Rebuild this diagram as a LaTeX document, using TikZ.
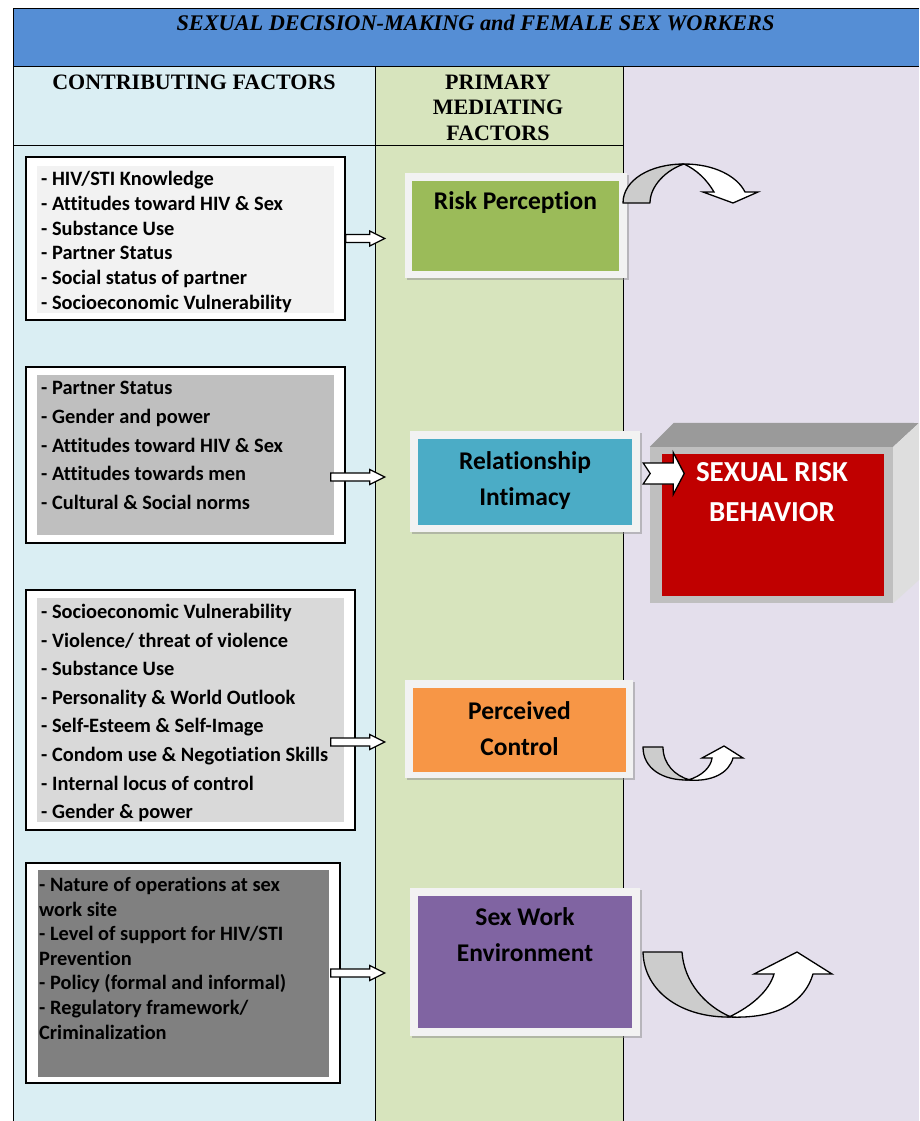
\documentclass[tikz,border=0pt]{standalone}
\usepackage{fontspec}
\setmainfont{Liberation Serif}
\newfontfamily\calibri[Ligatures=NoCommon]{Carlito}
\usetikzlibrary{positioning, shadows, calc}
\definecolor{hdrblue}{HTML}{558ED5}
\definecolor{colblue}{HTML}{DAEEF3}
\definecolor{colgreen}{HTML}{D7E4BD}
\definecolor{colpurple}{HTML}{E4DFEC}
\definecolor{boxlight}{HTML}{F2F2F2}
\definecolor{boxmid}{HTML}{BFBFBF}
\definecolor{boxpale}{HTML}{D9D9D9}
\definecolor{boxdark}{HTML}{808080}
\definecolor{riskgreen}{HTML}{9BBB59}
\definecolor{relblue}{HTML}{4BACC6}
\definecolor{ctrlorange}{HTML}{F79646}
\definecolor{envpurple}{HTML}{8064A2}
\definecolor{behavred}{HTML}{C00000}
\definecolor{cubetop}{HTML}{9A9A9A}
\definecolor{cubeside}{HTML}{DEDEDE}
\definecolor{curlgray}{HTML}{CCCCCC}
\tikzset{
	hollowarrow/.pic={
			\draw[line width=1.3pt, fill=white, line join=miter]
			(0,-4) -- (#1-15,-4) -- (#1-15,-7.5) -- (#1,0) --
			(#1-15,7.5) -- (#1-15,4) -- (0,4) -- cycle;
		}
}
\tikzset{
	notcharrow/.pic={
			\draw[line width=1.3pt, fill=white, line join=miter]
			(0,-10.5) -- (30,-10.5) -- (30,-21) -- (41,0) --
			(30,21) -- (30,10.5) -- (0,10.5) -- (7,0) -- cycle;
		}
}
\tikzset{
	factorframe/.style={draw, line width=1.5pt, fill=white, inner sep=0pt},
	factorfill/.style={fill=#1, draw=none, inner sep=0pt},
	factorline/.style={font=\calibri\bfseries\fontsize{20.4}{24}\selectfont, anchor=west, inner sep=0pt, text height=14pt, text depth=5pt}
}
\tikzset{
	medframe/.style={fill=boxlight, inner sep=0pt, drop shadow={shadow xshift=2pt, shadow yshift=-2pt, fill=black!45}},
	medfill/.style={fill=#1, inner sep=0pt},
	medtext/.style={font=\calibri\bfseries\fontsize{25.5}{36}\selectfont, align=center, inner sep=0pt},
	colhead/.style={font=\bfseries\fontsize{22}{25}\selectfont, inner sep=0pt, text height=16pt, text depth=5pt},
	curlback/.style={draw, line width=1.3pt, fill=curlgray, line join=round},
	curlfront/.style={draw, line width=1.3pt, fill=white, line join=miter}
}

\begin{document}
\begin{tikzpicture}[x=1pt, y=-1pt]

			\useasboundingbox[fill=white] (0,0) rectangle (919,1121);

			\begin{scope}
				\fill[hdrblue] (13,9) rectangle (919,67);
				\fill[colblue] (13,67) rectangle (375,1121);
				\fill[colgreen] (375,67) rectangle (623,1121);
				\fill[colpurple] (623,67) rectangle (919,1121);
				\draw[line width=1pt] (919,9) -- (13,9) -- (13,1121);
				\draw[line width=1pt] (13,67) -- (919,67);
				\draw[line width=1pt] (375,67) -- (375,1121);
				\draw[line width=1pt] (623,67) -- (623,1121);
				\draw[line width=1pt] (13,145) -- (623,145);
			\end{scope}

			\node[font=\bfseries\itshape\fontsize{22.3}{25}\selectfont, inner sep=0pt] (title) at (475.5,23) {SEXUAL DECISION-MAKING and FEMALE SEX WORKERS};
			\node[colhead] (headC) at (194,84) {CONTRIBUTING FACTORS};
			\node[colhead] (headM) at (498,84) {PRIMARY};
			\node[colhead, below=4pt of headM] (headM2) {MEDIATING};
			\node[colhead, below=4pt of headM2] (headM3) {FACTORS};

			\begin{scope}
				\node[factorframe, minimum width=319pt, minimum height=163pt] (fA) at (185.5,238.5) {};
				\node[factorfill=boxlight, minimum width=297pt, minimum height=147pt] (fAin) at (185.5,239.5) {};
				\foreach \txt [count=\i from 0] in {{- HIV/STI Knowledge}, {- Attitudes toward HIV \& Sex}, {- Substance Use}, {- Partner Status}, {- Social status of partner}, {- Socioeconomic Vulnerability}}
				\node[factorline] (la\i) at (41,181+24.8*\i) {\txt};

				\node[factorframe, minimum width=319pt, minimum height=176pt] (fB) at (185.5,455) {};
				\node[factorfill=boxmid, minimum width=297pt, minimum height=160pt] (fBin) at (185.5,455) {};
				\foreach \txt [count=\i from 0] in {{- Partner Status}, {- Gender and power}, {- Attitudes toward HIV \& Sex}, {- Attitudes towards men}, {- Cultural \& Social norms}}
				\node[factorline] (lb\i) at (41,390+28.8*\i) {\txt};

				\node[factorframe, minimum width=329pt, minimum height=240pt] (fC) at (190.5,710) {};
				\node[factorfill=boxpale, minimum width=307pt, minimum height=224pt] (fCin) at (190.5,710) {};
				\foreach \txt [count=\i from 0] in {{- Socioeconomic Vulnerability}, {- Violence/ threat of violence}, {- Substance Use}, {- Personality \& World Outlook}, {- Self-Esteem \& Self-Image}, {- Condom use \& Negotiation Skills}, {- Internal locus of control}, {- Gender \& power}}
				\node[factorline] (lc\i) at (41,614+28.6*\i) {\txt};

				\node[factorframe, minimum width=314pt, minimum height=220pt] (fD) at (183,973) {};
				\node[factorfill=boxdark, minimum width=291pt, minimum height=207pt] (fDin) at (183.5,973.5) {};
				\foreach \txt [count=\i from 0] in {{- Nature of operations at sex}, {work site}, {- Level of support for HIV/STI}, {Prevention}, {- Policy (formal and informal)}, {- Regulatory framework/}, {Criminalization}}
				\node[factorline] (ld\i) at (39,887+24.6*\i) {\txt};
			\end{scope}

			\begin{scope}
				\node[medframe, minimum width=222pt, minimum height=105pt] (rpF) at (516,225.5) {};
				\node[medfill=riskgreen, minimum width=207pt, minimum height=90pt] (rpB) at (515.5,226) {};
				\node[medtext] (rpT) at (515.5,203) {Risk Perception};

				\node[medframe, minimum width=230pt, minimum height=101pt] (rlF) at (525,481.5) {};
				\node[medfill=relblue, minimum width=214pt, minimum height=86pt] (rlB) at (525,482) {};
				\node[medtext] (rlT) at (525,481) {Relationship\\Intimacy};

				\node[medframe, minimum width=228pt, minimum height=98pt] (pcF) at (519,729) {};
				\node[medfill=ctrlorange, minimum width=213pt, minimum height=84pt] (pcB) at (519.5,730) {};
				\node[medtext] (pcT) at (519.5,729) {Perceived\\Control};

				\node[medframe, minimum width=230pt, minimum height=148pt] (swF) at (525,962) {};
				\node[medfill=envpurple, minimum width=214pt, minimum height=132pt] (swB) at (525,962) {};
				\node[medtext] (swT) at (525,935) {Sex Work\\Environment};
			\end{scope}

			\begin{scope}
				\node[fill=boxmid, minimum width=243pt, minimum height=156pt, inner sep=0pt] (cube) at (771.5,525) {};
				\fill[cubetop] (cube.north west) -- ++(24,-24) -- (919,423) -- (cube.north east) -- cycle;
				\fill[cubeside] (cube.north east) -- (919,423) -- (919,580) -- (cube.south east) -- cycle;
				\node[fill=behavred, minimum width=222pt, minimum height=142pt, inner sep=0pt] (behav) at (773,525) {};
				\node[font=\calibri\bfseries\fontsize{29}{40}\selectfont, text=white, align=center, inner sep=0pt] (behavT) at (772,492) {SEXUAL RISK\\BEHAVIOR};
			\end{scope}

			\coordinate (tA) at (fA.east);
			\coordinate (tB) at ($(fB.east)+(-15,22)$);
			\coordinate (tC) at ($(fC.east)+(-25,32)$);
			\coordinate (tD) at ($(fD.east)+(-10,0)$);
			\coordinate (tR) at ($(rlF.east)+(3,-8)$);

			\pic at (tA) {hollowarrow={39}};
			\pic at (tB) {hollowarrow={54}};
			\pic at (tC) {hollowarrow={54}};
			\pic at (tD) {hollowarrow={54}};
			\pic at (tR) {notcharrow};

			\draw[curlback] (623,203) .. controls (623,180) and (650,164) .. (684,164) .. controls (666,170) and (650,186) .. (650,203) -- cycle;
			\draw[curlfront] (684,164) .. controls (714,164) and (737,176) .. (745,192) -- (758,192) -- (733,203) -- (703,192) -- (714,192) .. controls (707,180) and (697,170) .. (684,164) -- cycle;

			\draw[curlback] (643,747) -- (663,747) .. controls (663,764) and (675,776) .. (690,780) .. controls (662,781) and (643,768) .. (643,747) -- cycle;
			\draw[curlfront] (688,780) .. controls (702,776) and (711,767) .. (712,758) -- (702,758) -- (724,746) -- (743,758) -- (733,758) .. controls (729,773) and (712,782) .. (688,780) -- cycle;

			\draw[curlback] (643,952) -- (682,952) .. controls (684,982) and (705,1006) .. (731,1017) .. controls (682,1018) and (644,992) .. (643,952) -- cycle;
			\draw[curlfront] (729,1017) .. controls (752,1006) and (769,991) .. (774,974) -- (754,974) -- (797,952) -- (832,974) -- (813,974) .. controls (805,1001) and (779,1019) .. (729,1017) -- cycle;

		\end{tikzpicture}
\end{document}
